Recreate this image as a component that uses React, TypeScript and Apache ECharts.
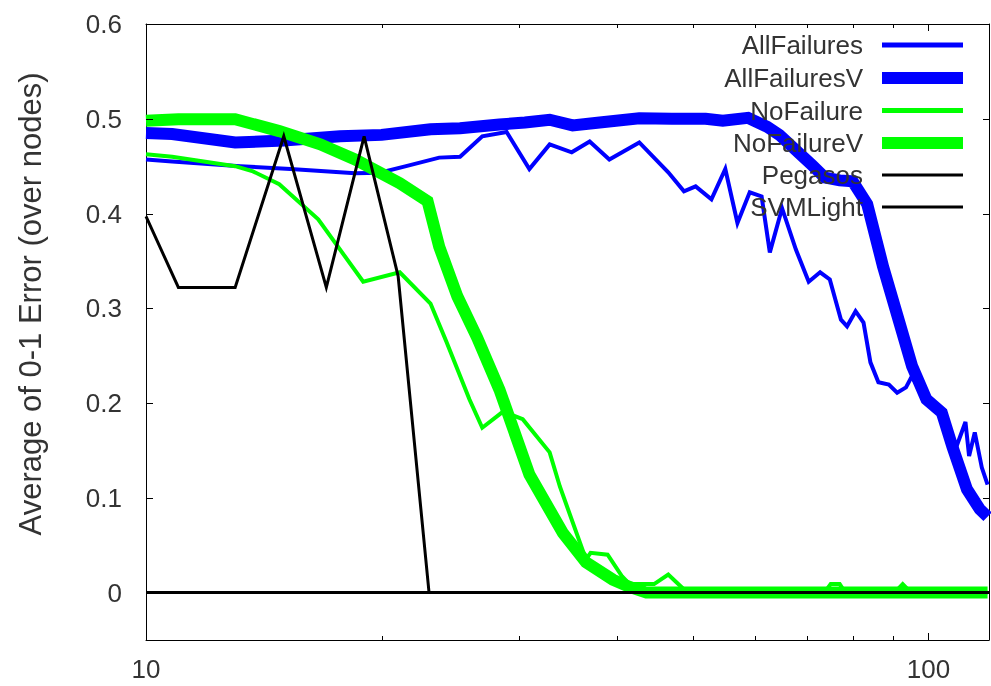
import React, { useEffect, useRef } from 'react';
import * as echarts from 'echarts';

// ---- data ----
const seriesNames = ['AllFailures', 'AllFailuresV', 'NoFailure', 'NoFailureV', 'Pegasos', 'SVMLight'];

const allFailuresX = [10, 10.8, 13.2, 15.3, 18.5, 19.9, 21.5, 23.7, 25.2, 26.9, 28.9, 30.9, 32.8, 35, 36.9, 39.1, 42.7, 46.5, 48.7, 50.4, 52.8, 55, 57, 59.1, 61.2, 62.7, 65, 67.7, 70.3, 72.7, 74.8, 77.3, 78.7, 80.7, 82.6, 84.3, 86.3, 89, 91.2, 93.6, 95.2, 99.4, 103.4, 106, 108.8, 111.5, 112.7, 114.6, 117, 119];
const allFailuresY = [0.457, 0.455, 0.45, 0.447, 0.4425, 0.443, 0.45, 0.459, 0.46, 0.4815, 0.486, 0.447, 0.473, 0.4646, 0.476, 0.457, 0.475, 0.4435, 0.4234, 0.4287, 0.415, 0.447, 0.39, 0.4224, 0.418, 0.359, 0.4056, 0.362, 0.328, 0.338, 0.3305, 0.288, 0.281, 0.297, 0.285, 0.243, 0.222, 0.2196, 0.211, 0.2165, 0.228, 0.204, 0.191, 0.169, 0.156, 0.18, 0.144, 0.169, 0.132, 0.114];

const allFailuresVX = [10, 10.8, 13, 15, 17.7, 20, 23.1, 25.2, 28.3, 30.5, 32.8, 35.1, 38, 42.7, 47, 51.9, 54.6, 58.8, 62.2, 64.5, 68.5, 71, 73.7, 77, 80, 83.5, 87.5, 91.8, 95.3, 99.4, 104, 107.3, 112, 116.3, 119];
const allFailuresVY = [0.485, 0.484, 0.475, 0.477, 0.4815, 0.483, 0.489, 0.49, 0.494, 0.496, 0.499, 0.493, 0.496, 0.5005, 0.5, 0.5, 0.498, 0.501, 0.4915, 0.483, 0.463, 0.451, 0.438, 0.435, 0.434, 0.41, 0.344, 0.285, 0.239, 0.204, 0.19, 0.154, 0.109, 0.088, 0.08];

const noFailureX = [10, 10.8, 13, 13.7, 14.8, 16.6, 18.95, 21.1, 23.1, 24.2, 25.9, 26.9, 28.6, 30.3, 32.8, 33.8, 36.5, 37, 38.9, 40.6, 41.5, 44.6, 46.5, 48.6, 50, 73.6, 75, 77, 78.3, 90.5, 92.7, 95, 119];
const noFailureY = [0.4625, 0.46, 0.45, 0.4445, 0.431, 0.394, 0.328, 0.338, 0.305, 0.265, 0.204, 0.174, 0.191, 0.183, 0.148, 0.112, 0.035, 0.042, 0.04, 0.017, 0.009, 0.009, 0.019, 0.004, 0, 0, 0.009, 0.009, 0, 0, 0.009, 0, 0];

const noFailureVX = [10, 11, 13, 14.8, 16.7, 18.5, 21.1, 22.9, 23.7, 25, 26.5, 28.3, 30.9, 34.1, 36.5, 39.5, 41.5, 43.6, 119];
const noFailureVY = [0.498, 0.4995, 0.4995, 0.487, 0.473, 0.457, 0.432, 0.413, 0.365, 0.3125, 0.269, 0.214, 0.1246, 0.063, 0.032, 0.0137, 0.006, 0, 0];

const pegasosX = [10, 11, 13, 15, 17, 19, 21, 23, 119.5];
const pegasosY = [0.397, 0.322, 0.322, 0.4815, 0.322, 0.4815, 0.334, 0, 0];

const svmLightX = [10, 119.5];
const svmLightY = [0, 0];

const xMajorTicks = [10, 100];
const xMinorTicks = [20, 30, 40, 50, 60, 70, 80, 90];
const yTicks = [0, 0.1, 0.2, 0.3, 0.4, 0.5, 0.6];
const yAxisTitle = 'Average of 0-1 Error (over nodes)';

const zip = (xs: number[], ys: number[]) => xs.map((x, i) => [x, ys[i]]);

export default function App() {
  const ref = useRef<HTMLDivElement>(null);

  useEffect(() => {
    document.body.style.margin = '0';
    if (!ref.current) return;
    const chart = echarts.init(ref.current, undefined, { renderer: 'svg' });
    const font = '"Liberation Sans", Arial, sans-serif';
    const textColor = '#333';
    const X_MIN = 10;
    const X_MAX = 119.5;
    const Y_MIN = -0.05;
    const Y_MAX = 0.6;

    const xAxisOpt = (position: 'top' | 'bottom', labels: boolean) => ({
      type: 'log',
      logBase: 10,
      min: X_MIN,
      max: X_MAX,
      position,
      axisLine: { show: true, onZero: false, lineStyle: { color: '#000', width: 1 } },
      axisTick: { show: false },
      axisLabel: labels
        ? { show: true, customValues: xMajorTicks, margin: 16, fontSize: 26, color: textColor, fontFamily: font }
        : { show: false },
      splitLine: { show: false },
    });

    const yAxisOpt = (position: 'left' | 'right', labels: boolean) => ({
      type: 'value',
      min: Y_MIN,
      max: Y_MAX,
      position,
      axisLine: { show: true, onZero: false, lineStyle: { color: '#000', width: 1 } },
      axisTick: { show: false },
      axisLabel: labels
        ? { show: true, customValues: yTicks, margin: 24, fontSize: 26, color: textColor, fontFamily: font }
        : { show: false },
      splitLine: { show: false },
    });

    // tick marks drawn through the axes' own scales
    const tickSeries = (data: number[][], dx: number, dy: number) => ({
      type: 'custom',
      silent: true,
      clip: false,
      z: 6,
      xAxisIndex: 0,
      yAxisIndex: 0,
      data,
      renderItem: (_params: any, api: any) => {
        const p = api.coord([api.value(0), api.value(1)]);
        let x = p[0];
        let y = p[1];
        if (dx !== 0) y = Math.round(y) + 0.5;
        if (dy !== 0) x = Math.round(x) + 0.5;
        return {
          type: 'line',
          shape: { x1: x, y1: y, x2: x + dx, y2: y + dy },
          style: { stroke: '#000', lineWidth: 1 },
        };
      },
    });

    const colors = ['#0000ff', '#0000ff', '#00ff00', '#00ff00', '#000000', '#000000'];
    const widths = [4, 12, 4, 12, 3, 3];
    const legendHeights = [5, 12, 5, 12, 3, 3];
    const rowCenters = [45, 78, 110.5, 143, 175, 207];
    const xs = [allFailuresX, allFailuresVX, noFailureX, noFailureVX, pegasosX, svmLightX];
    const ys = [allFailuresY, allFailuresVY, noFailureY, noFailureVY, pegasosY, svmLightY];

    const lineSeries = seriesNames.map((n, i) => ({
      name: n,
      type: 'line',
      xAxisIndex: 0,
      yAxisIndex: 0,
      data: zip(xs[i], ys[i]),
      symbol: 'none',
      showSymbol: false,
      lineStyle: { color: colors[i], width: widths[i], join: 'miter' },
      itemStyle: { color: colors[i] },
      emphasis: { disabled: true },
    }));

    chart.setOption({
      animation: false,
      grid: { left: 146, right: 2, top: 24, bottom: 46, containLabel: false },
      xAxis: [xAxisOpt('bottom', true), xAxisOpt('top', false)],
      yAxis: [yAxisOpt('left', true), yAxisOpt('right', false)],
      legend: seriesNames.map((n, i) => ({
        data: [n],
        orient: 'vertical',
        right: 28,
        top: rowCenters[i] - 13,
        padding: 0,
        itemWidth: 81,
        itemHeight: legendHeights[i],
        icon: 'rect',
        align: 'right',
        selectedMode: false,
        itemStyle: { borderWidth: 0 },
        textStyle: { fontSize: 26, lineHeight: 26, color: textColor, fontFamily: font, padding: [0, 14, 0, 0] },
      })),
      series: [
        ...lineSeries,
        tickSeries(yTicks.map((v) => [X_MIN, v]), 7, 0),
        tickSeries(yTicks.map((v) => [X_MAX, v]), -6, 0),
        tickSeries(xMajorTicks.map((v) => [v, Y_MIN]), 0, -7),
        tickSeries(xMinorTicks.map((v) => [v, Y_MIN]), 0, -4),
        tickSeries(xMajorTicks.map((v) => [v, Y_MAX]), 0, 7),
        tickSeries(xMinorTicks.map((v) => [v, Y_MAX]), 0, 4),
      ],
      graphic: [
        {
          type: 'text',
          x: 30,
          y: 304,
          rotation: Math.PI / 2,
          style: {
            text: yAxisTitle,
            fontSize: 31,
            fontFamily: font,
            fill: textColor,
            align: 'center',
            verticalAlign: 'middle',
          },
        },
      ],
    });

    return () => chart.dispose();
  }, []);

  return <div ref={ref} style={{ width: 991, height: 686, position: 'fixed', left: 0, top: 0 }} />;
}
